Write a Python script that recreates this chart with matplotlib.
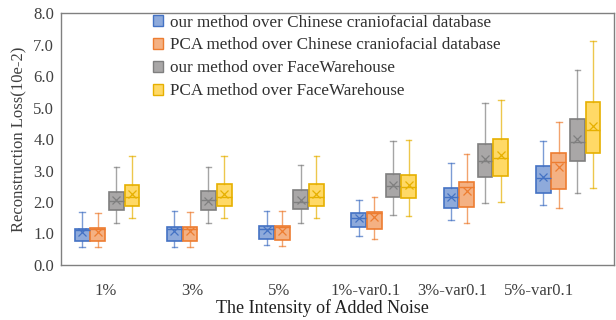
import matplotlib.pyplot as plt
from matplotlib.patches import Patch

plt.rcParams['font.family'] = ['Liberation Serif', 'DejaVu Serif']

noise_levels = ['1%', '3%', '5%', '1%-var0.1', '3%-var0.1', '5%-var0.1']
series_names = ['our method over Chinese craniofacial database',
                'PCA method over Chinese craniofacial database',
                'our method over FaceWarehouse',
                'PCA method over FaceWarehouse']

# per series, per noise level: (whisker low, q1, median, q3, whisker high, mean)
ours_chinese = [(0.58, 0.77, 1.12, 1.15, 1.68, 1.04),
                (0.58, 0.77, 1.15, 1.22, 1.72, 1.09),
                (0.63, 0.81, 1.15, 1.24, 1.71, 1.11),
                (0.92, 1.20, 1.48, 1.64, 2.06, 1.48),
                (1.43, 1.80, 2.15, 2.43, 3.23, 2.17),
                (1.90, 2.30, 2.75, 3.13, 3.94, 2.78)]
pca_chinese = [(0.58, 0.77, 1.15, 1.18, 1.64, 1.04),
               (0.58, 0.77, 1.15, 1.20, 1.69, 1.09),
               (0.60, 0.79, 1.20, 1.23, 1.71, 1.09),
               (0.81, 1.15, 1.64, 1.69, 2.17, 1.51),
               (1.34, 1.85, 2.49, 2.65, 3.51, 2.36),
               (1.80, 2.41, 3.26, 3.57, 4.55, 3.12)]
ours_fw = [(1.34, 1.75, 2.02, 2.32, 3.12, 2.06),
           (1.32, 1.75, 2.06, 2.36, 3.12, 2.04),
           (1.34, 1.77, 2.01, 2.38, 3.17, 2.06),
           (1.59, 2.15, 2.51, 2.88, 3.95, 2.53),
           (1.96, 2.80, 3.30, 3.83, 5.13, 3.37),
           (2.28, 3.29, 3.91, 4.63, 6.19, 4.01)]
pca_fw = [(1.48, 1.88, 2.15, 2.54, 3.47, 2.24),
          (1.48, 1.88, 2.15, 2.56, 3.47, 2.25),
          (1.48, 1.88, 2.15, 2.56, 3.47, 2.25),
          (1.56, 2.13, 2.49, 2.86, 3.97, 2.53),
          (2.01, 2.84, 3.39, 3.99, 5.24, 3.49),
          (2.45, 3.55, 4.29, 5.18, 7.12, 4.42)]

all_series = [ours_chinese, pca_chinese, ours_fw, pca_fw]
face_colors = ['#8EAADB', '#F4B183', '#A9A7A7', '#FFD966']
edge_colors = ['#4472C4', '#ED7D31', '#7F7F7F', '#E6B000']
offsets = [-0.27, -0.10, 0.10, 0.27]
box_width = 0.16

fig, ax = plt.subplots(figsize=(6.16, 3.2), dpi=100)
fig.subplots_adjust(left=0.099, right=0.997, bottom=0.172, top=0.959)

for data, fc, ec, off in zip(all_series, face_colors, edge_colors, offsets):
    stats = []
    for lo, q1, med, q3, hi, mean in data:
        stats.append({'whislo': lo, 'q1': q1, 'med': med, 'q3': q3,
                      'whishi': hi, 'mean': mean, 'fliers': []})
    positions = [i + off for i in range(len(noise_levels))]
    ax.bxp(stats, positions=positions, widths=box_width, patch_artist=True,
           showmeans=True, showfliers=False,
           boxprops=dict(facecolor=fc, edgecolor=ec, linewidth=1.2),
           medianprops=dict(color=ec, linewidth=1.0),
           whiskerprops=dict(color=ec, linewidth=1.0, alpha=0.7),
           capprops=dict(color=ec, linewidth=1.0, alpha=0.7),
           capwidths=0.06,
           meanprops=dict(marker='x', markeredgecolor=ec, markersize=6,
                          markeredgewidth=0.9))

ax.set_xlim(-0.5, 5.5)
ax.set_ylim(0, 8)
# category labels sit on a slightly tighter pitch than the box groups
ax.set_xticks([i * 0.938 - 0.01 for i in range(len(noise_levels))])
ax.set_xticklabels(noise_levels)
ax.set_yticks([i for i in range(9)])
ax.set_yticklabels(['%.1f' % i for i in range(9)])
ax.tick_params(length=0, labelsize=12, colors='#404040')
ax.tick_params(axis='x', pad=13)
ax.tick_params(axis='y', pad=5)
for s in ax.spines.values():
    s.set_color('#808080')
    s.set_linewidth(1.0)

ax.set_ylabel('Reconstruction Loss(10e-2)', fontsize=12, color='#404040')
ax.set_xlabel('The Intensity of Added Noise', fontsize=13, color='#202020',
              labelpad=0, x=0.472)

handles = [Patch(facecolor=fc, edgecolor=ec, linewidth=1.0)
           for fc, ec in zip(face_colors, edge_colors)]
ax.legend(handles, series_names, loc='upper left', bbox_to_anchor=(0.138, 1.055),
          frameon=False, fontsize=12.3, handlelength=0.6, handleheight=0.6,
          handletextpad=0.4, labelspacing=0.4, labelcolor='#303030')

plt.savefig('out.png')
